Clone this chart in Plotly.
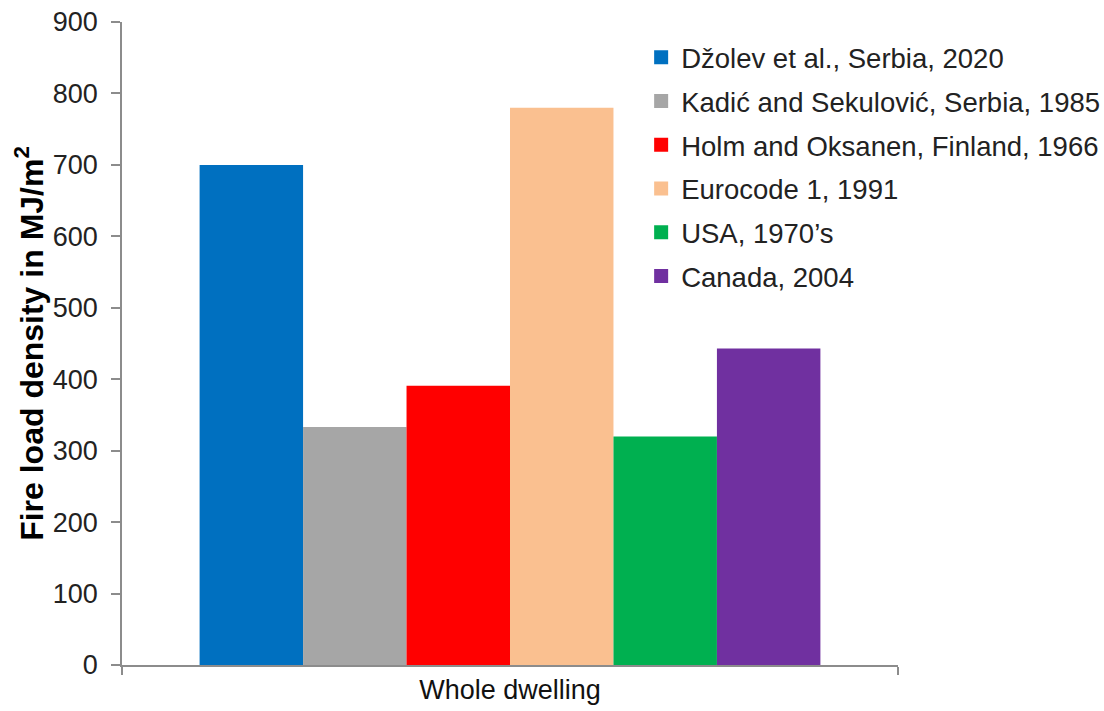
import plotly.graph_objects as go

categories = ["Whole dwelling"]
series_names = [
    "Džolev et al., Serbia, 2020",
    "Kadić and Sekulović, Serbia, 1985",
    "Holm and Oksanen, Finland, 1966",
    "Eurocode 1, 1991",
    "USA, 1970’s",
    "Canada, 2004",
]
series_values = [700, 333, 391, 780, 320, 443]
colors = ["#0070C0", "#A6A6A6", "#FF0000", "#FAC090", "#00B050", "#7030A0"]
y_ticks = [0, 100, 200, 300, 400, 500, 600, 700, 800, 900]

fig = go.Figure()
for i, (name, val, col) in enumerate(zip(series_names, series_values, colors)):
    fig.add_trace(go.Bar(
        x=categories, y=[val], name=name, marker=dict(color=col, line=dict(width=0)),
        showlegend=False, legendgroup=f"g{i}",
    ))
for i, (name, col) in enumerate(zip(series_names, colors)):
    fig.add_trace(go.Scatter(
        x=[None], y=[None], mode="markers", name=name, legendgroup=f"g{i}",
        marker=dict(symbol="square", size=14, color=col),
    ))

fig.update_layout(
    width=1104, height=711,
    margin=dict(l=122, r=206, t=22, b=46, autoexpand=False),
    paper_bgcolor="white", plot_bgcolor="white",
    barmode="group", bargap=0.2, bargroupgap=0,
    font=dict(family="Liberation Sans, Arial, sans-serif", size=27, color="#222222"),
    legend=dict(
        x=0.669, y=0.983, xanchor="left", yanchor="top",
        traceorder="grouped", tracegroupgap=5, itemwidth=30,
        font=dict(size=27.5, color="#222222"), bgcolor="rgba(0,0,0,0)",
    ),
    showlegend=True,
)
fig.update_yaxes(
    range=[0, 900], tickvals=y_ticks, showgrid=False, zeroline=False,
    showline=True, linecolor="#8C8C8C", linewidth=1.5,
    ticks="outside", ticklen=9, tickcolor="#8C8C8C", tickwidth=1.5,
    ticklabelstandoff=8,
    tickfont=dict(size=27, color="#222222"),
    title=dict(text="<b>Fire load density in MJ/m<sup>2</sup></b>", font=dict(size=32, color="#000000"), standoff=0),
)
fig.update_xaxes(
    showgrid=False, showline=True, linecolor="#8C8C8C", linewidth=1.5,
    ticks="outside", tickson="boundaries", ticklen=8, tickcolor="#8C8C8C", tickwidth=1.5,
    tickfont=dict(size=27, color="#111111"),
)

fig.write_html("out.html")
